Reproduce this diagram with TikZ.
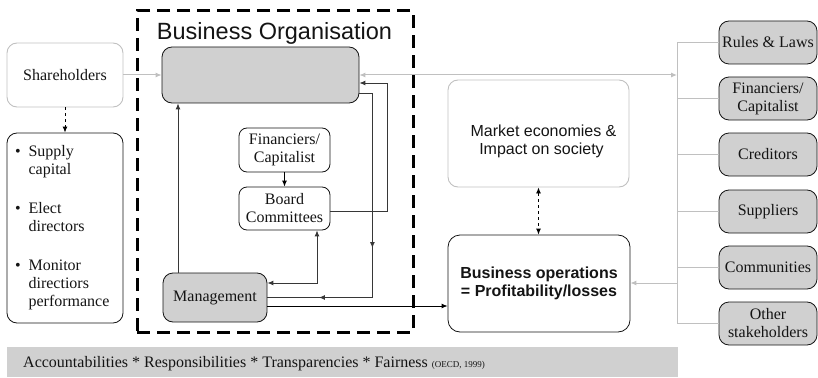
\documentclass[tikz,border=0pt]{standalone}
\usepackage{fontspec}
\setmainfont{Liberation Serif}
\newfontfamily\arialf{Liberation Sans}
\usetikzlibrary{arrows.meta,decorations.markings}
\definecolor{boxgray}{RGB}{208,208,208}
\definecolor{lgray}{RGB}{192,192,192}
\definecolor{ink}{RGB}{20,20,20}
\definecolor{cline}{RGB}{55,55,55}
\begin{document}
\begin{tikzpicture}[x=1pt,y=-1pt,
  every node/.style={font=\fontsize{16}{18}\selectfont, text=ink},
  sbox/.style={draw=ink, line width=0.8pt, rounded corners=8pt, align=center, inner sep=1pt},
  gbx/.style={sbox, fill=boxgray},
  lbox/.style={draw=lgray, line width=0.9pt, rounded corners=10pt, align=center},
  tip/.style={-{Latex[length=6pt,width=5pt]}},
  dtip/.style={{Latex[length=6pt,width=5pt]}-{Latex[length=6pt,width=5pt]}},
  conn/.style={draw=cline, line width=0.9pt},
  lline/.style={draw=lgray, line width=1pt},
  sans/.style={font=\arialf\fontsize{16}{18}\selectfont},
  rbox/.style={gbx, rounded corners=10pt, minimum width=98pt, minimum height=43pt}
]
\useasboundingbox (0,0) rectangle (818,377);

% dashed organisation frame
\node[draw=black, line width=3pt, dash pattern=on 13pt off 7pt, minimum width=276pt, minimum height=321pt, inner sep=0pt] (org) at (275,171.5) {};
\node[font=\arialf\fontsize{23.5}{26}\selectfont, anchor=base] (title) at (274.5,40) {Business Organisation};

% left side
\node[lbox, minimum width=116pt, minimum height=64pt] (share) at (65,75) {Shareholders};
\node[sbox, rounded corners=10pt, minimum width=116pt, minimum height=190pt, text width=100pt, align=left, inner xsep=8pt] (bullets) at (65,228) {%
\begin{tabular}{@{}l@{\hspace{8pt}}l@{}}
\textbullet & Supply\\ & capital\\[21pt]
\textbullet & Elect\\ & directors\\[21pt]
\textbullet & Monitor\\ & directiors\\ & performance
\end{tabular}};

% inside organisation
\node[gbx, rounded corners=10pt, minimum width=197pt, minimum height=56pt] (gbox) at (260.5,75) {};
\node[sbox, minimum width=91pt, minimum height=44pt] (fin1) at (284.5,150) {Financiers/\\Capitalist};
\node[sbox, minimum width=91pt, minimum height=43pt] (board) at (284.5,208.5) {Board\\Committees};
\node[gbx, rounded corners=10pt, minimum width=104pt, minimum height=49pt] (mgmt) at (215,297.5) {Management};

% middle
\node[lbox, sans, minimum width=181pt, minimum height=107pt, text depth=0pt] (market) at (538.5,133.5) {\raisebox{-3pt}{\parbox{160pt}{\centering\hspace*{10pt}Market economies \&\\\hspace*{6pt}Impact on society}}};
\node[sbox, rounded corners=12pt, font=\arialf\bfseries\fontsize{16}{18}\selectfont, minimum width=182pt, minimum height=97pt] (bizop) at (539,283.5) {Business operations\\= Profitability/losses};

% right stakeholders
\node[rbox] (rules) at (768,42.5) {Rules \& Laws};
\node[rbox] (fin2) at (768,98.5) {Financiers/\\Capitalist};
\node[rbox] (cred) at (768,154.5) {Creditors};
\node[rbox] (supp) at (768,211.5) {Suppliers};
\node[rbox] (comm) at (768,267.5) {Communities};
\node[rbox] (other) at (768,323.5) {Other\\stakeholders};

% bottom bar
\node[fill=boxgray, minimum width=671pt, minimum height=30pt, anchor=north west, inner sep=0pt] (bar) at (7,347) {};
\node[anchor=base west, inner sep=0pt] (acc) at (23,367) {Accountabilities * Responsibilities * Transparencies * Fairness {\fontsize{9}{10}\selectfont (OECD, 1999)}};

% light gray connectors
\coordinate (tr) at (677,75);
\draw[lline, tip] (share.east) -- (gbox.west);
\draw[lline, dtip] (gbox.east) -- (tr);
\draw[lline] (rules.west -| tr) -- (other.west -| tr);
\foreach \b in {rules,fin2,cred,supp,comm,other} \draw[lline] (\b.west -| tr) -- (\b.west);
\coordinate (t4) at (677,283);
\draw[lline, tip] (t4) -- (t4 -| bizop.east);

% dark connectors
\draw[conn, tip, dashed, draw=black] (share.south) -- (bullets.north);
\coordinate (m0) at ([xshift=-37pt]mgmt.north);
\draw[conn, tip] (m0) -- (m0 |- gbox.south);
\draw[conn, tip, draw=black] (fin1.south) -- (board.north);
\draw[conn, tip] ([yshift=-3pt]board.east) -- ++(57,0) |- ([yshift=-8pt]gbox.east);
\draw[conn, postaction={decorate}, decoration={markings,
   mark=at position 168pt with {\arrow{Latex[length=6pt,width=5pt]}},
   mark=at position 271pt with {\arrow{Latex[length=6pt,width=5pt]}}}]
   ([yshift=-18pt]gbox.east) -- ++(13,0) |- (mgmt.east);
\draw[conn, dtip] ([yshift=14.5pt]mgmt.east) -| ([xshift=32.5pt]board.south);
\coordinate (m3) at ([yshift=-8.5pt]mgmt.east);
\draw[conn, tip, draw=black] (m3) -- (m3 -| bizop.west);
\draw[conn, dtip, dashed, draw=black] (market.south) -- (market.south |- bizop.north);
\end{tikzpicture}
\end{document}
